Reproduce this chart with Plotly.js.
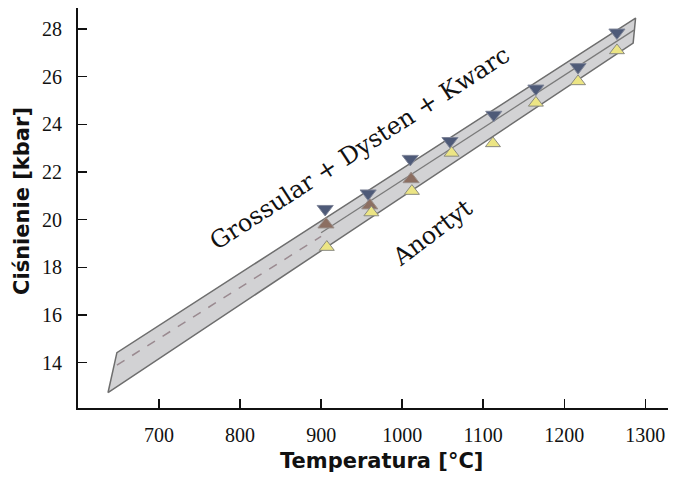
<!DOCTYPE html>
<html>
<head>
<meta charset="utf-8">
<script src="https://cdn.plot.ly/plotly-3.0.1.min.js"></script>
<style>html,body{margin:0;padding:0;background:#fff;}#chart{width:674px;height:479px;}</style>
</head>
<body>
<div id="chart"></div>
<script>
// Band (P-T field) outline
var bandT = [637, 648, 1288, 1285, 637];
var bandP = [12.74, 14.42, 28.46, 27.41, 12.74];
// Extrapolated (dashed) centre line
var dashT = [648, 900];
var dashP = [13.9, 19.3];
// Solid centre line inside the band
var midT = [900, 1286];
var midP = [19.45, 27.95];
// Grossular + Dysten + Kwarc (down triangles)
var blueT = [905, 958, 1010, 1059, 1113, 1165, 1217, 1265];
var blueP = [20.45, 21.1, 22.55, 23.3, 24.4, 25.5, 26.4, 27.85];
// Intermediate (brown) points
var brownT = [906, 960, 1011];
var brownP = [19.8, 20.6, 21.7];
// Anortyt (up triangles)
var yellowT = [907, 962, 1012, 1061, 1112, 1165, 1217, 1265];
var yellowP = [18.85, 20.3, 21.2, 22.8, 23.2, 24.9, 25.8, 27.1];
// Axis ticks
var xTicks = [700, 800, 900, 1000, 1100, 1200, 1300];
var yTicks = [14, 16, 18, 20, 22, 24, 26, 28];

var traces = [
  {x: bandT, y: bandP, type: 'scatter', mode: 'lines', fill: 'toself',
   fillcolor: 'rgba(208,208,210,0.95)', line: {color: '#6e6e6e', width: 1.5}, hoverinfo: 'skip'},
  {x: dashT, y: dashP, type: 'scatter', mode: 'lines',
   line: {color: '#9a8a90', width: 1.5, dash: 'dash'}},
  {x: midT, y: midP, type: 'scatter', mode: 'lines',
   line: {color: '#7a7a7a', width: 1.3}},
  {x: brownT, y: brownP, type: 'scatter', mode: 'markers',
   marker: {symbol: 'triangle-up', size: 14, color: '#8c6f62', line: {color: '#9a8f8a', width: 1}}},
  {x: blueT, y: blueP, type: 'scatter', mode: 'markers',
   marker: {symbol: 'triangle-down', size: 14, color: '#4e5a78', line: {color: '#7f8598', width: 1}}},
  {x: yellowT, y: yellowP, type: 'scatter', mode: 'markers',
   marker: {symbol: 'triangle-up', size: 13, color: '#ece584', line: {color: '#8a8a80', width: 1}}}
];

var serif = 'Liberation Serif, Times New Roman, serif';
var heavy = 'DejaVu Sans, Arial, sans-serif';

var layout = {
  width: 674, height: 479,
  margin: {l: 78, r: 6, t: 8, b: 71},
  paper_bgcolor: '#fff', plot_bgcolor: '#fff',
  showlegend: false,
  xaxis: {
    range: [600, 1328], tickvals: xTicks, ticktext: xTicks.map(String),
    ticks: 'inside', ticklen: 9, tickwidth: 1.5, tickcolor: '#111',
    ticklabelstandoff: 8,
    showline: true, linecolor: '#111', linewidth: 2, showgrid: false, zeroline: false,
    tickfont: {family: serif, size: 20, color: '#111'}
  },
  yaxis: {
    range: [12.1, 28.88], tickvals: yTicks, ticktext: yTicks.map(String),
    ticks: 'inside', ticklen: 9, tickwidth: 1.5, tickcolor: '#111',
    ticklabelstandoff: 10,
    showline: true, linecolor: '#111', linewidth: 2, showgrid: false, zeroline: false,
    tickfont: {family: serif, size: 20, color: '#111'}
  },
  annotations: [
    {x: 0.514, y: -0.1325, xref: 'paper', yref: 'paper', showarrow: false,
     xanchor: 'center', yanchor: 'middle',
     text: '<b>Temperatura [°C]</b>',
     font: {family: heavy, size: 21, color: '#111'}},
    {x: -0.095, y: 0.5175, xref: 'paper', yref: 'paper', showarrow: false,
     xanchor: 'center', yanchor: 'middle', textangle: -90,
     text: '<b>Ciśnienie [kbar]</b>',
     font: {family: heavy, size: 21, color: '#111'}},
    {x: 0.478, y: 0.65, xref: 'paper', yref: 'paper', showarrow: false,
     text: 'Grossular + Dysten + Kwarc', textangle: -33,
     font: {family: 'DejaVu Serif, serif', size: 24, color: '#111'}},
    {x: 0.600, y: 0.4375, xref: 'paper', yref: 'paper', showarrow: false,
     text: 'Anortyt', textangle: -37,
     font: {family: 'DejaVu Serif, serif', size: 24, color: '#111'}}
  ]
};

Plotly.newPlot('chart', traces, layout, {displayModeBar: false, staticPlot: true});
</script>
</body>
</html>
